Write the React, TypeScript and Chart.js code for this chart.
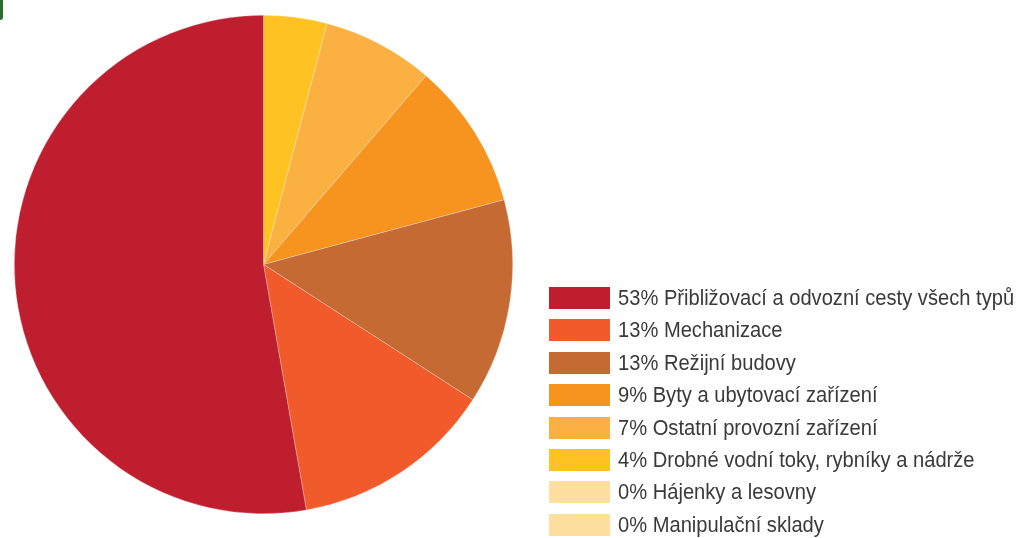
import React, { useEffect, useRef } from "react";
import { Chart, registerables } from "chart.js";

Chart.register(...registerables);

// Legend order (top to bottom)
const categories = [
  "Přibližovací a odvozní cesty všech typů",
  "Mechanizace",
  "Režijní budovy",
  "Byty a ubytovací zařízení",
  "Ostatní provozní zařízení",
  "Drobné vodní toky, rybníky a nádrže",
  "Hájenky a lesovny",
  "Manipulační sklady",
];
const percentLabels = ["53%", "13%", "13%", "9%", "7%", "4%", "0%", "0%"];
const values = [52.7, 13.1, 13.3, 9.5, 7.2, 4.1, 0, 0];
const colors = [
  "#BE1E2D",
  "#F15A2B",
  "#C46A32",
  "#F7931F",
  "#FBB042",
  "#FEC323",
  "#FEDFA0",
  "#FEDFA0",
];

export default function App() {
  const canvasRef = useRef<HTMLCanvasElement | null>(null);

  useEffect(() => {
    if (!canvasRef.current) return;
    // slices are drawn clockwise from the top in reverse legend order
    const drawLabels = [...categories].reverse();
    const drawValues = [...values].reverse();
    const drawColors = [...colors].reverse();
    const chart = new Chart(canvasRef.current, {
      type: "pie",
      data: {
        labels: drawLabels,
        datasets: [
          {
            data: drawValues,
            backgroundColor: drawColors,
            borderColor: "rgba(255,255,255,0.45)",
            borderWidth: 0.6,
          },
        ],
      },
      options: {
        responsive: false,
        animation: false,
        devicePixelRatio: 1,
        layout: { padding: { left: 14, top: 15, right: 508, bottom: 24 } },
        plugins: {
          legend: { display: false },
          tooltip: { enabled: false },
        },
      },
    });
    return () => chart.destroy();
  }, []);

  return (
    <div
      style={{
        position: "absolute",
        left: 0,
        top: 0,
        width: 1021,
        height: 538,
        background: "#fff",
        overflow: "hidden",
      }}
    >
      <canvas ref={canvasRef} width={1021} height={538} style={{ position: "absolute", left: 0, top: 0 }} />
      <div
        style={{
          position: "absolute",
          left: 0,
          top: 0,
          width: 3,
          height: 20,
          background: "#2E6B2E",
          borderBottomRightRadius: 3,
        }}
      />
      {categories.map((c, i) => (
        <div
          key={c}
          style={{
            position: "absolute",
            left: 549,
            top: 287 + i * 32.4,
            height: 22,
            display: "flex",
            alignItems: "center",
            whiteSpace: "nowrap",
          }}
        >
          <div style={{ width: 61, height: 22, background: colors[i], flex: "none" }} />
          <span
            style={{
              marginLeft: 8,
              display: "inline-block",
              transform: "scaleX(0.915)",
              transformOrigin: "left center",
              fontFamily: "'Liberation Sans', Arial, sans-serif",
              fontSize: 22,
              color: "#3A3A3A",
              lineHeight: "22px",
            }}
          >
            {percentLabels[i] + " " + c}
          </span>
        </div>
      ))}
    </div>
  );
}
